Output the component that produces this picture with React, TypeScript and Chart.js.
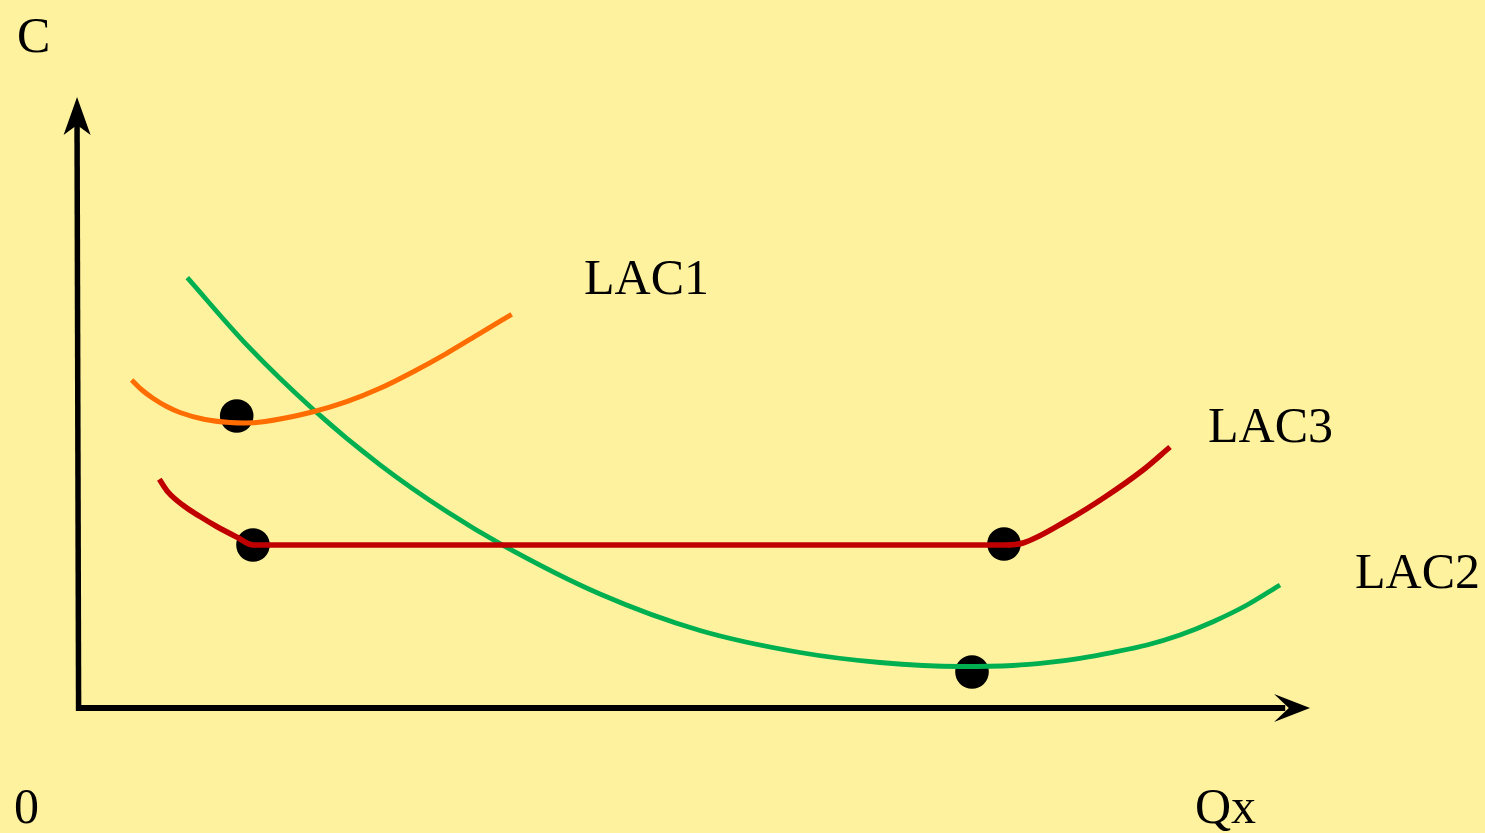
import React, { useEffect, useRef } from "react";
import { Chart, registerables } from "chart.js";

Chart.register(...registerables);

// Quantity (Q) and cost (C) values
const lac1Q = [4.475, 5.333, 6.275, 7.392, 8.5, 10.583, 12.667, 13.917, 15.442, 19.608, 22.392, 25.167, 27.942, 30.725, 33.5, 36.142];
const lac1C = [32.8, 31.8, 30.95, 30.15, 29.55, 28.85, 28.55, 28.5, 28.63, 29.63, 30.63, 31.97, 33.63, 35.47, 37.47, 39.37];

const lac2Q = [9.108, 14.083, 19.608, 25.167, 30.725, 35.308, 43.5, 51.833, 60.167, 66.833, 73.5, 77.917, 80.75, 83.5, 86.25, 89.083, 91.833, 94.583, 97.417, 100.167];
const lac2C = [43.03, 36.28, 29.85, 24.31, 19.64, 16.34, 11.4, 7.75, 5.55, 4.55, 4.15, 4.25, 4.53, 4.97, 5.57, 6.3, 7.3, 8.63, 10.3, 12.3];

const lac3Q = [6.775, 7.5, 8.775, 10.167, 11.558, 13.225, 14.583, 77.167, 78.75, 82.5, 85.583, 88.75, 91.0];
const lac3C = [22.87, 21.6, 20.25, 19.15, 18.15, 17.1, 16.3, 16.3, 16.5, 18.8, 21.1, 23.8, 26.1];

const dotQ = [13.225, 14.583, 77.167, 74.5];
const dotC = [29.2, 16.3, 16.4, 3.6];

const yAxisQ = [0.05, -0.08];
const yAxisC = [-0.3, 58.6];
const xAxisQ = [-0.1, 100.6];
const xAxisC = [0, 0];

const yArrowQ = [-0.08, -1.2, -0.08, 1.05];
const yArrowC = [61.1, 57.3, 58.3, 57.3];
const xArrowQ = [102.67, 99.67, 100.9, 99.67];
const xArrowC = [0, 1.4, 0, -1.4];

const labelText = ["C", "0", "Qx", "LAC1", "LAC3", "LAC2"];
const labelQ = [-5.08, -5.33, 93.08, 42.17, 94.17, 106.42];
const labelC = [65.6, -11.5, -11.5, 41.4, 26.6, 12.0];

const BG = "#fff29e";

const pts = (qs: number[], cs: number[]) => qs.map((q, i) => ({ x: q, y: cs[i] }));

const decorPlugin = {
  id: "decor",
  afterDatasetsDraw(chart: any) {
    const { ctx, scales } = chart;
    const sx = (v: number) => scales.x.getPixelForValue(v);
    const sy = (v: number) => scales.y.getPixelForValue(v);
    ctx.save();
    ctx.fillStyle = "#000";
    [
      [yArrowQ, yArrowC],
      [xArrowQ, xArrowC],
    ].forEach(([qs, cs]) => {
      ctx.beginPath();
      qs.forEach((q: number, i: number) => {
        if (i === 0) ctx.moveTo(sx(q), sy(cs[i]));
        else ctx.lineTo(sx(q), sy(cs[i]));
      });
      ctx.closePath();
      ctx.fill();
    });
    ctx.font = '50px "Liberation Serif", "DejaVu Serif", serif';
    ctx.textAlign = "left";
    ctx.textBaseline = "alphabetic";
    labelText.forEach((t, i) => {
      ctx.fillText(t, sx(labelQ[i]), sy(labelC[i]));
    });
    ctx.restore();
  },
};

export default function App() {
  const ref = useRef<HTMLCanvasElement | null>(null);

  useEffect(() => {
    document.body.style.margin = "0";
    document.body.style.background = BG;
    if (!ref.current) return;
    const lineBase = {
      type: "line" as const,
      pointRadius: 0,
      fill: false,
      borderCapStyle: "butt" as const,
    };
    const chart = new Chart(ref.current, {
      type: "line",
      data: {
        datasets: [
          { ...lineBase, label: "yAxis", data: pts(yAxisQ, yAxisC), borderColor: "#000", borderWidth: 5.5, tension: 0 } as any,
          { ...lineBase, label: "xAxis", data: pts(xAxisQ, xAxisC), borderColor: "#000", borderWidth: 6, tension: 0 } as any,
          { ...lineBase, label: "LAC1", data: pts(lac1Q, lac1C), borderColor: "#ff6d00", borderWidth: 5, cubicInterpolationMode: "monotone" as const },
          { ...lineBase, label: "LAC3", data: pts(lac3Q, lac3C), borderColor: "#c00000", borderWidth: 5.5, cubicInterpolationMode: "monotone" as const },
          { ...lineBase, label: "LAC2", data: pts(lac2Q, lac2C), borderColor: "#00b050", borderWidth: 4.8, cubicInterpolationMode: "monotone" as const },
          {
            type: "scatter" as const,
            label: "dots",
            data: pts(dotQ, dotC),
            pointRadius: 16.8,
            pointBackgroundColor: "#000",
            pointBorderWidth: 0,
            showLine: false,
          } as any,
        ],
      },
      options: {
        animation: false,
        responsive: false,
        maintainAspectRatio: false,
        devicePixelRatio: 1,
        layout: { padding: 0, autoPadding: false },
        events: [],
        scales: {
          x: { type: "linear", display: false, min: -6.5, max: 117.25 },
          y: { type: "linear", display: false, min: -12.5, max: 70.8 },
        },
        plugins: {
          legend: { display: false },
          tooltip: { enabled: false },
        },
      },
      plugins: [decorPlugin],
    });
    return () => chart.destroy();
  }, []);

  return (
    <canvas
      ref={ref}
      width={1485}
      height={833}
      style={{ display: "block", width: 1485, height: 833, background: BG }}
    />
  );
}
